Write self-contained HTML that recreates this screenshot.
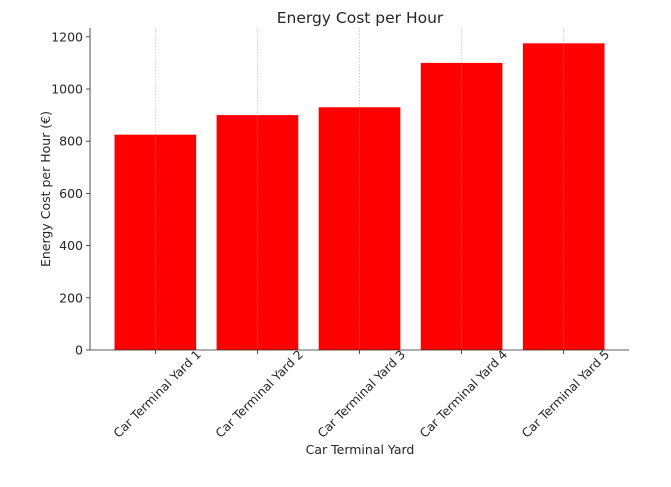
<!DOCTYPE html>
<html><head><meta charset="utf-8"><style>
body{margin:0;background:#fff;}
svg text{font-family:"DejaVu Sans","Liberation Sans",sans-serif;fill:#262626;}
</style></head><body>
<svg width="671" height="482" id="chart">
<text x="360" y="23" text-anchor="middle" font-size="15.5">Energy Cost per Hour</text>
<g id="plot"></g>
<text x="360" y="454" text-anchor="middle" font-size="12.5">Car Terminal Yard</text>
<text transform="translate(50,189) rotate(-90)" text-anchor="middle" font-size="12.5">Energy Cost per Hour (€)</text>
</svg>
<script>
const categories=["Car Terminal Yard 1","Car Terminal Yard 2","Car Terminal Yard 3","Car Terminal Yard 4","Car Terminal Yard 5"];
const values=[825,900,930,1100,1175];
const yTicks=[0,200,400,600,800,1000,1200];
const L=90,R=629,T=28,B=350;
const yMax=Math.max(...values)*1.05;
const y=v=>B-(v/yMax)*(B-T);
const xMin=-0.64,xMax=categories.length-1+0.64;
const x=i=>L+(i-xMin)/(xMax-xMin)*(R-L);
const bw=0.8*(R-L)/(xMax-xMin);
const ns="http://www.w3.org/2000/svg";
const g=document.getElementById('plot');
function mk(t,a){const e=document.createElementNS(ns,t);for(const k in a)e.setAttribute(k,a[k]);g.appendChild(e);return e;}
categories.forEach((c,i)=>{
 const r=mk('rect',{x:x(i)-bw/2,y:y(values[i]),width:bw,height:B-y(values[i]),fill:'#ff0000'});
 
 
});
categories.forEach((c,i)=>{
 const gl=mk('line',{x1:x(i),x2:x(i),y1:T,y2:B,stroke:'#b0b0b0','stroke-width':0.6,'stroke-dasharray':'1.5,1.5'});
 
 
 mk('line',{x1:x(i),x2:x(i),y1:B,y2:B+4,stroke:'#262626','stroke-width':0.8});
 const t=mk('text',{'text-anchor':'middle','dominant-baseline':'central','font-size':'12.2',transform:`translate(${x(i)+2},${B+44}) rotate(-45)`});
 t.textContent=c;
 
 
});
yTicks.forEach(v=>{
 mk('line',{x1:L-4,x2:L,y1:y(v),y2:y(v),stroke:'#262626','stroke-width':0.8});
 const t=mk('text',{x:L-7,y:y(v)+4.5,'text-anchor':'end','font-size':'12.5'});
 t.textContent=v;
 
 
});
mk('line',{x1:L,x2:L,y1:T,y2:B,stroke:'#262626','stroke-width':0.8});
mk('line',{x1:L,x2:R,y1:B,y2:B,stroke:'#262626','stroke-width':0.8});
</script>
</body></html>
